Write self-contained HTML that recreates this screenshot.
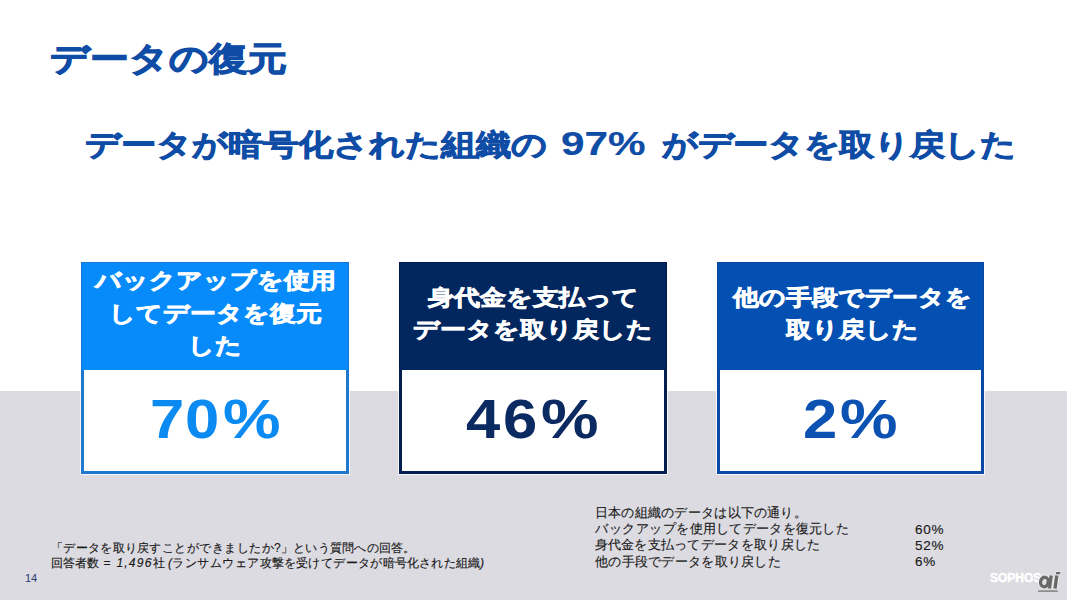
<!DOCTYPE html>
<html lang="ja">
<head>
<meta charset="utf-8">
<style>
*{margin:0;padding:0;box-sizing:border-box;}
html,body{width:1067px;height:600px;overflow:hidden;background:#fff;}
body{position:relative;font-family:"Liberation Sans",sans-serif;}
.band{position:absolute;left:0;top:391px;width:1067px;height:209px;background:#dcdbe1;}
.t{position:absolute;white-space:nowrap;}
.blue{color:#0e4ca6;font-weight:bold;-webkit-text-stroke:1px #0e4ca6;}
.sy{transform:scaleY(0.85);}
#title{left:50px;top:34px;font-size:39px;line-height:50px;-webkit-text-stroke:1.3px #0e4ca6;}
.sub{top:120px;font-size:35.3px;line-height:50px;}
.box{position:absolute;top:262px;width:268px;height:212px;background:#fff;box-shadow:0 0 0 1px rgba(255,255,255,0.75);}
.hd{position:absolute;left:0;top:0;width:100%;height:108px;color:#fff;font-weight:bold;font-size:26px;text-align:center;display:flex;align-items:center;justify-content:center;-webkit-text-stroke:0.85px #fff;padding-bottom:5px;}
.ht{line-height:38.2px;transform:scaleY(0.85);white-space:nowrap;}
.bd{position:absolute;left:0;top:108px;width:100%;height:104px;border:3px solid;border-top:none;}
.g{position:absolute;top:390.5px;font-size:56px;line-height:56px;font-weight:bold;transform-origin:0 0;}
#b1{left:81px;} #b1 .hd{background:#078bfa;box-shadow:inset 0 1px 0 #1677d2,inset 1px 0 0 #1677d2,inset -1px 0 0 #1677d2;} #b1 .bd{border-color:#1e78cd;}
#b2{left:399px;} #b2 .hd{background:#02275f;box-shadow:inset 0 1px 0 #011a45,inset 1px 0 0 #011a45,inset -1px 0 0 #011a45;} #b2 .bd{border-color:#021f50;}
#b3{left:717px;width:267px;} #b3 .hd{background:#0450b2;box-shadow:inset 0 1px 0 #0a46a0,inset 1px 0 0 #0a46a0,inset -1px 0 0 #0a46a0;} #b3 .bd{border-color:#0a4aa5;} #b3 .ht{margin-left:4px;}
.note{position:absolute;font-size:13px;color:#1a1a1a;-webkit-text-stroke:0.3px #1a1a1a;line-height:16.5px;white-space:nowrap;}
.sc{transform:scale(0.5);transform-origin:0 0;}
</style>
</head>
<body>
<div class="band"></div>
<div class="t blue sy" id="title">データの復元</div>
<div class="t blue sub sy" id="subA" style="left:85px;">データが暗号化された組織の</div>
<div class="t blue sub" id="subB" style="left:561px;top:118px;font-size:34px;transform:scaleX(1.24);transform-origin:0 0;-webkit-text-stroke:0.2px #0e4ca6;">97%</div>
<div class="t blue sub sy" id="subC" style="left:662px;font-size:35px;letter-spacing:-0.35px;">がデータを取り戻した</div>

<div class="box" id="b1"><div class="hd"><div class="ht">バックアップを使用<br>してデータを復元<br>した</div></div><div class="bd"></div></div>
<div class="box" id="b2"><div class="hd"><div class="ht">身代金を支払って<br>データを取り戻した</div></div><div class="bd"></div></div>
<div class="box" id="b3"><div class="hd"><div class="ht">他の手段でデータを<br>取り戻した</div></div><div class="bd"></div></div>

<span class="g" style="left:149.8px;transform:scaleX(1.1);color:#0b8af2">7</span>
<span class="g" style="left:184.7px;transform:scaleX(1.1);color:#0b8af2">0</span>
<span class="g" style="left:222.9px;transform:scaleX(1.155);color:#0b8af2">%</span>
<span class="g" style="left:466.3px;transform:scaleX(1.1);color:#0b2a62">4</span>
<span class="g" style="left:503.4px;transform:scaleX(1.1);color:#0b2a62">6</span>
<span class="g" style="left:540.8px;transform:scaleX(1.155);color:#0b2a62">%</span>
<span class="g" style="left:802.8px;transform:scaleX(1.1);color:#0c52b3">2</span>
<span class="g" style="left:839.8px;transform:scaleX(1.155);color:#0c52b3">%</span>

<div class="note sc" style="left:51px;top:540px;font-size:24.2px;line-height:30.4px;">「データを取り戻すことができましたか?」という質問への回答。<br>回答者数<span style="letter-spacing:2.4px"> = <i>1,496</i></span>社 <i>(</i>ランサムウェア攻撃を受けてデータが暗号化された組織<i>)</i></div>
<div class="note" style="left:25px;top:570px;font-size:11px;color:#2a3a70;-webkit-text-stroke:0;">14</div>
<div class="note sc" style="left:595px;top:504px;font-size:26.4px;line-height:32.6px;">日本の組織のデータは以下の通り。<br>バックアップを使用してデータを復元した<br>身代金を支払ってデータを取り戻した<br>他の手段でデータを取り戻した</div>
<div class="note sc" style="left:915px;top:521px;font-size:27px;line-height:32.6px;letter-spacing:1.6px;">60%<br>52%<br>6%</div>
<div class="t" style="left:990px;top:571px;font-size:12px;line-height:14px;font-weight:bold;color:#fff;letter-spacing:0px;-webkit-text-stroke:0.4px #fff;">SOPHOS</div>
<svg style="position:absolute;left:1034px;top:568px;" width="30" height="26" viewBox="0 0 30 26">
<g fill="none" stroke="#f4f4f6" stroke-width="5.4" opacity="0.8">
<ellipse cx="10.4" cy="14" rx="3.8" ry="4.7" transform="rotate(12 10.4 14)"/>
<path d="M17.2 7.4 L15.4 20.4"/><path d="M22.8 7.4 L21 20.4"/>
</g>
<path d="M22.2 4.1 L26.3 4.1 L25.9 6.2 L21.8 6.2 Z" fill="#6a6a6a" stroke="#f4f4f6" stroke-width="1.2" stroke-opacity="0.8"/>
<g fill="none" stroke="#696969" stroke-width="3.4">
<ellipse cx="10.4" cy="14" rx="3.8" ry="4.7" transform="rotate(12 10.4 14)"/>
<path d="M17.2 7.4 L15.4 20.4"/><path d="M22.8 7.4 L21 20.4"/>
</g>
<path d="M22.2 4.1 L26.3 4.1 L25.9 6.2 L21.8 6.2 Z" fill="#6a6a6a"/>
<rect x="4.1" y="22.4" width="19.6" height="1.4" fill="#7a7a7a"/>
</svg>
</body>
</html>
